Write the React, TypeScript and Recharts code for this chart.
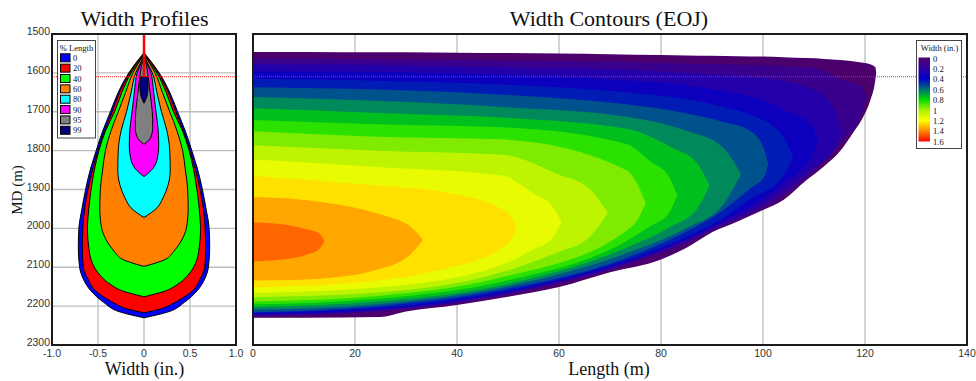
import React from 'react';
import { ComposedChart, Area, XAxis, YAxis, CartesianGrid, ReferenceLine } from 'recharts';

// ---------- axes ----------
const MD_TICKS = [1500, 1600, 1700, 1800, 1900, 2000, 2100, 2200, 2300];
const WIDTH_TICKS = [-1, -0.5, 0, 0.5, 1];
const WIDTH_TICK_LABELS = ['-1.0', '-0.5', '0', '0.5', '1.0'];
const LENGTH_TICKS = [0, 20, 40, 60, 80, 100, 120, 140];
const PERF_MD = 1610;

// ---------- width profiles: [MD (m), half width (in.)] ----------
const PROFILE_LABELS = ['0', '20', '40', '60', '80', '90', '95', '99'];
const PROFILE_COLORS = ['#0000FF', '#FF0000', '#00FF00', '#FF8000', '#00FFFF', '#FF00FF', '#808080', '#000080'];
const PROFILE_0 = [[1548, 0], [1575, 0.09], [1600, 0.165], [1650, 0.28], [1700, 0.365], [1750, 0.45], [1800, 0.52], [1850, 0.585], [1900, 0.635], [1950, 0.675], [2000, 0.708], [2050, 0.714], [2100, 0.7], [2130, 0.66], [2160, 0.58], [2190, 0.44], [2215, 0.26], [2230, 0]];
const PROFILE_20 = [[1550, 0], [1575, 0.085], [1600, 0.155], [1650, 0.265], [1700, 0.345], [1750, 0.43], [1800, 0.5], [1850, 0.56], [1900, 0.61], [1950, 0.645], [2000, 0.665], [2050, 0.67], [2100, 0.66], [2130, 0.61], [2160, 0.53], [2176, 0.44], [2195, 0.3], [2208, 0.17], [2217, 0]];
const PROFILE_40 = [[1552, 0], [1575, 0.07], [1600, 0.14], [1650, 0.24], [1700, 0.32], [1750, 0.42], [1800, 0.49], [1850, 0.54], [1900, 0.575], [1950, 0.6], [2000, 0.615], [2050, 0.6], [2090, 0.56], [2120, 0.48], [2145, 0.36], [2162, 0.22], [2176, 0]];
const PROFILE_60 = [[1554, 0], [1575, 0.06], [1600, 0.12], [1650, 0.2], [1700, 0.28], [1750, 0.36], [1800, 0.42], [1850, 0.45], [1900, 0.475], [1950, 0.48], [2000, 0.46], [2030, 0.41], [2060, 0.32], [2080, 0.23], [2098, 0]];
const PROFILE_80 = [[1556, 0], [1580, 0.05], [1600, 0.09], [1650, 0.14], [1700, 0.19], [1750, 0.25], [1800, 0.28], [1850, 0.285], [1890, 0.26], [1920, 0.21], [1950, 0.13], [1972, 0]];
const PROFILE_90 = [[1557, 0], [1580, 0.04], [1600, 0.075], [1650, 0.105], [1700, 0.13], [1750, 0.155], [1790, 0.16], [1820, 0.145], [1845, 0.1], [1867, 0]];
const PROFILE_95 = [[1558, 0], [1580, 0.025], [1600, 0.04], [1650, 0.065], [1700, 0.09], [1740, 0.095], [1765, 0.075], [1784, 0]];
const PROFILE_99 = [[1608, 0.035], [1630, 0.045], [1650, 0.04], [1665, 0.025], [1678, 0]];
const PROFILES = [PROFILE_0, PROFILE_20, PROFILE_40, PROFILE_60, PROFILE_80, PROFILE_90, PROFILE_95, PROFILE_99];

// ---------- width contours: [Length (m), top MD, bottom MD] of region where width > level ----------
const CONTOUR_LEVELS = [0, 0.1, 0.2, 0.3, 0.4, 0.5, 0.6, 0.7, 0.8, 0.9, 1.0, 1.1, 1.2, 1.3, 1.4];
const LEVEL_COLORS = ['#4C006B', '#39008E', '#2400AA', '#0C00BE', '#001CB4', '#00528C', '#00895A', '#00C01E', '#2AE100', '#7EEB00', '#BEF400', '#E9FB00', '#FFE100', '#FFA600', '#FF6600'];
const LEVEL_00 = [[0, 1546, 2230], [10, 1546, 2230], [25, 1547, 2228], [30, 1547, 2214], [40, 1548, 2197], [50, 1549, 2176], [60, 1550, 2151], [70, 1552, 2113], [80, 1554, 2080], [85, 1555, 2050], [90, 1556, 2010], [95, 1557, 1982], [100, 1558, 1953], [104, 1560, 1927], [108.6, 1562, 1875], [112, 1564, 1840], [115, 1567, 1803], [117.6, 1570, 1755], [119.6, 1574, 1715], [121, 1578, 1672], [122, 1585, 1620], [122.2, 1600, 1600]];
const LEVEL_01 = [[0, 1563, 2227], [24.4, 1565, 2214], [48.8, 1568, 2173], [73.2, 1572, 2094], [85, 1576, 2038], [92, 1578, 1993], [97.6, 1580, 1964], [109.8, 1586, 1856], [115.9, 1620, 1771], [119.2, 1631, 1707], [120.3, 1660, 1660]];
const LEVEL_02 = [[0, 1578, 2224], [24.4, 1580, 2212], [48.8, 1586, 2170], [73.2, 1592, 2090], [85, 1600, 2031], [92, 1606, 1988], [97.6, 1610, 1955], [109.8, 1642, 1845], [114, 1694, 1795], [115.4, 1745, 1745]];
const LEVEL_03 = [[0, 1595, 2221], [24.4, 1598, 2209], [48.8, 1605, 2166], [73.2, 1619, 2086], [85, 1632, 2028], [92, 1646, 1983], [97.6, 1660, 1943], [104, 1695, 1885], [109.8, 1740, 1810], [110.7, 1778, 1778]];
const LEVEL_04 = [[0, 1615, 2218], [24.4, 1620, 2205], [48.8, 1630, 2163], [73.2, 1650, 2082], [85, 1668, 2022], [92, 1687, 1975], [97.6, 1708, 1924], [103.8, 1761, 1869], [105.9, 1815, 1815]];
const LEVEL_05 = [[0, 1637, 2216], [24.4, 1643, 2200], [48.8, 1656, 2158], [73.2, 1681, 2076], [85, 1704, 2008], [92, 1726, 1955], [97.6, 1750, 1896], [100.2, 1795, 1868], [101, 1835, 1835]];
const LEVEL_06 = [[0, 1662, 2209], [24.4, 1672, 2195], [48.8, 1688, 2152], [73.2, 1713, 2064], [85, 1749, 1999], [92, 1790, 1942], [95.7, 1860, 1860]];
const LEVEL_07 = [[0, 1691, 2202], [24.4, 1703, 2188], [48.8, 1715, 2146], [73.2, 1744, 2050], [82, 1791, 1995], [87, 1831, 1951], [89.5, 1890, 1890]];
const LEVEL_08 = [[0, 1721, 2196], [24.4, 1732, 2181], [48.8, 1740, 2137], [73.2, 1783, 2033], [78, 1828, 1994], [81.5, 1866, 1962], [83.2, 1915, 1915]];
const LEVEL_09 = [[0, 1750, 2188], [24.4, 1764, 2174], [48.8, 1771, 2126], [73.2, 1850, 2006], [75.5, 1890, 1976], [77, 1935, 1935]];
const LEVEL_10 = [[0, 1786, 2177], [24.4, 1800, 2165], [48.8, 1810, 2113], [60, 1862, 2060], [66, 1898, 2022], [69.6, 1960, 1960]];
const LEVEL_11 = [[0, 1823, 2166], [24.4, 1842, 2152], [48.8, 1864, 2094], [55, 1910, 2054], [58.5, 1940, 2028], [60.5, 1984, 1984]];
const LEVEL_12 = [[0, 1865, 2152], [24.4, 1890, 2134], [36.6, 1905, 2107], [48.8, 1950, 2050], [50.8, 1975, 2025], [51.5, 2000, 2000]];
const LEVEL_13 = [[0, 1919, 2134], [12.2, 1930, 2130], [24.4, 1962, 2106], [31.1, 1998, 2064], [33.3, 2030, 2030]];
const LEVEL_14 = [[0, 1985, 2085], [7, 1992, 2078], [10.5, 2002, 2068], [13, 2013, 2053], [14, 2033, 2033]];
const CONTOURS = [LEVEL_00, LEVEL_01, LEVEL_02, LEVEL_03, LEVEL_04, LEVEL_05, LEVEL_06, LEVEL_07, LEVEL_08, LEVEL_09, LEVEL_10, LEVEL_11, LEVEL_12, LEVEL_13, LEVEL_14];

// ---------- colour bar ----------
const COLORBAR_LABELS = ['0', '0.2', '0.4', '0.6', '0.8', '1', '1.2', '1.4', '1.6'];
const COLORBAR_COLORS = ['#50006A', '#3000A0', '#0000C8', '#006E78', '#00DC00', '#A8F000', '#FFFF00', '#FF8800', '#FF0000'];

const profileRows = PROFILES.map((p) => p.map(([md, hw]) => ({ md, r: [-hw, hw] })));
const contourRows = CONTOURS.map((c) => c.map(([L, top, bottom]) => ({ L, r: [top, bottom] })));

const SANS = "'Liberation Sans', Arial, sans-serif";
const SERIF = "'Liberation Serif', 'Times New Roman', serif";

const WidthTick = (props: any) => {
  const { x, y, payload } = props;
  const idx = WIDTH_TICKS.indexOf(payload.value);
  return (
    <text x={x} y={y + 12.3} textAnchor="middle" fontSize={10.5} fontFamily={SANS} fill="#333">
      {idx >= 0 ? WIDTH_TICK_LABELS[idx] : payload.value}
    </text>
  );
};

const LengthTick = (props: any) => {
  const { x, y, payload } = props;
  return (
    <text x={x} y={y + 12.3} textAnchor="middle" fontSize={10.5} fontFamily={SANS} fill="#333">
      {payload.value}
    </text>
  );
};

const MdTick = (props: any) => {
  const { x, y, payload } = props;
  return (
    <text x={x - 2} y={y + 1} textAnchor="end" fontSize={10.5} fontFamily={SANS} fill="#333">
      {payload.value}
    </text>
  );
};

export default function App() {
  return (
    <div style={{ position: 'absolute', left: 0, top: 0, width: 976, height: 381, background: '#fff', overflow: 'hidden' }}>
      <div style={{ position: 'absolute', left: 0, top: 0 }}>
        <ComposedChart width={250} height={381} layout="vertical" margin={{ top: 34, right: 14, bottom: 16, left: 7 }}>
          <CartesianGrid stroke="#bdbdbd" strokeWidth={1.3} />
          <XAxis type="number" domain={[-1, 1]} ticks={WIDTH_TICKS} interval={0} height={20} tickSize={0} tickMargin={0} axisLine={false} tickLine={false} tick={<WidthTick />} allowDataOverflow />
          <YAxis type="number" dataKey="md" domain={[1500, 2300]} ticks={MD_TICKS} interval={0} width={45} tickSize={0} tickMargin={0} axisLine={false} tickLine={false} tick={<MdTick />} allowDataOverflow />
          {profileRows.map((rows, i) => (
            <Area
              key={PROFILE_LABELS[i]}
              data={rows}
              dataKey="r"
              type="monotone"
              fill={PROFILE_COLORS[i]}
              fillOpacity={1}
              stroke="#000"
              strokeWidth={1}
              dot={false}
              activeDot={false}
              isAnimationActive={false}
              legendType="none"
            />
          ))}
          <ReferenceLine y={PERF_MD} stroke="#ff2020" strokeDasharray="1 1" strokeWidth={1} />
          <ReferenceLine segment={[{ x: 0, y: 1500 }, { x: 0, y: PERF_MD }]} stroke="#ff0000" strokeWidth={2.5} />
        </ComposedChart>
      </div>
      <div style={{ position: 'absolute', left: 240, top: 0 }}>
        <ComposedChart width={736} height={381} margin={{ top: 34, right: 9, bottom: 16, left: 13 }}>
          <CartesianGrid stroke="#bdbdbd" strokeWidth={1.3} />
          <XAxis type="number" dataKey="L" domain={[0, 140]} ticks={LENGTH_TICKS} interval={0} height={20} tickSize={0} tickMargin={0} axisLine={false} tickLine={false} tick={<LengthTick />} allowDataOverflow />
          <YAxis type="number" domain={[1500, 2300]} reversed ticks={MD_TICKS} interval={0} width={0} tick={false} axisLine={false} tickLine={false} allowDataOverflow />
          {contourRows.map((rows, i) => (
            <Area
              key={String(CONTOUR_LEVELS[i])}
              data={rows}
              dataKey="r"
              type="monotone"
              fill={LEVEL_COLORS[i]}
              fillOpacity={1}
              stroke="none"
              dot={false}
              activeDot={false}
              isAnimationActive={false}
              legendType="none"
            />
          ))}
          <ReferenceLine y={PERF_MD} stroke="#ff2020" strokeDasharray="1 1" strokeWidth={1} />
        </ComposedChart>
      </div>
      <svg width={976} height={381} style={{ position: 'absolute', left: 0, top: 0, pointerEvents: 'none' }}>
        <defs>
          <linearGradient id="cbar" x1="0" y1="0" x2="0" y2="1">
            {COLORBAR_COLORS.map((c, i) => (
              <stop key={i} offset={i / (COLORBAR_COLORS.length - 1)} stopColor={c} />
            ))}
          </linearGradient>
        </defs>
        <rect x={52} y={34} width={184} height={311} fill="none" stroke="#1a1a1a" strokeWidth={2} />
        <rect x={253} y={34} width={714} height={311} fill="none" stroke="#1a1a1a" strokeWidth={2} />
        <text x={144.5} y={26} textAnchor="middle" fontFamily={SERIF} fontSize={22} fill="#111">Width Profiles</text>
        <text x={609} y={26} textAnchor="middle" fontFamily={SERIF} fontSize={22} fill="#111">Width Contours (EOJ)</text>
        <text x={144.5} y={375} textAnchor="middle" fontFamily={SERIF} fontSize={18} fill="#111">Width (in.)</text>
        <text x={609} y={375} textAnchor="middle" fontFamily={SERIF} fontSize={18} fill="#111">Length (m)</text>
        <text x={22} y={190} textAnchor="middle" fontFamily={SERIF} fontSize={15} fill="#111" transform="rotate(-90 22 190)">MD (m)</text>
        <rect x={57.5} y={40.5} width={38} height={97.5} fill="#fff" stroke="#444" strokeWidth={1} />
        <text x={76.5} y={50.5} textAnchor="middle" fontFamily={SERIF} fontSize={8.5} fill="#111">% Length</text>
        {PROFILE_LABELS.map((lab, i) => {
          const cy = 57.8 + i * 10.35;
          return (
            <g key={lab}>
              <rect x={60.5} y={cy - 4} width={9.5} height={8} fill={PROFILE_COLORS[i]} stroke="#000" strokeWidth={1} />
              <text x={73} y={cy + 3} fontFamily={SERIF} fontSize={8.5} fill="#111">{lab}</text>
            </g>
          );
        })}
        <rect x={916.5} y={40.5} width={45} height={108} fill="#fff" stroke="#444" strokeWidth={1} />
        <text x={939.5} y={51} textAnchor="middle" fontFamily={SERIF} fontSize={8.5} fill="#111">Width (in.)</text>
        <rect x={918.5} y={57.5} width={11.5} height={84} fill="url(#cbar)" />
        {COLORBAR_LABELS.map((lab, i) => (
          <text key={lab} x={933} y={58.5 + i * 10.4 + 3} fontFamily={SERIF} fontSize={8.5} fill="#111">{lab}</text>
        ))}
      </svg>
    </div>
  );
}
